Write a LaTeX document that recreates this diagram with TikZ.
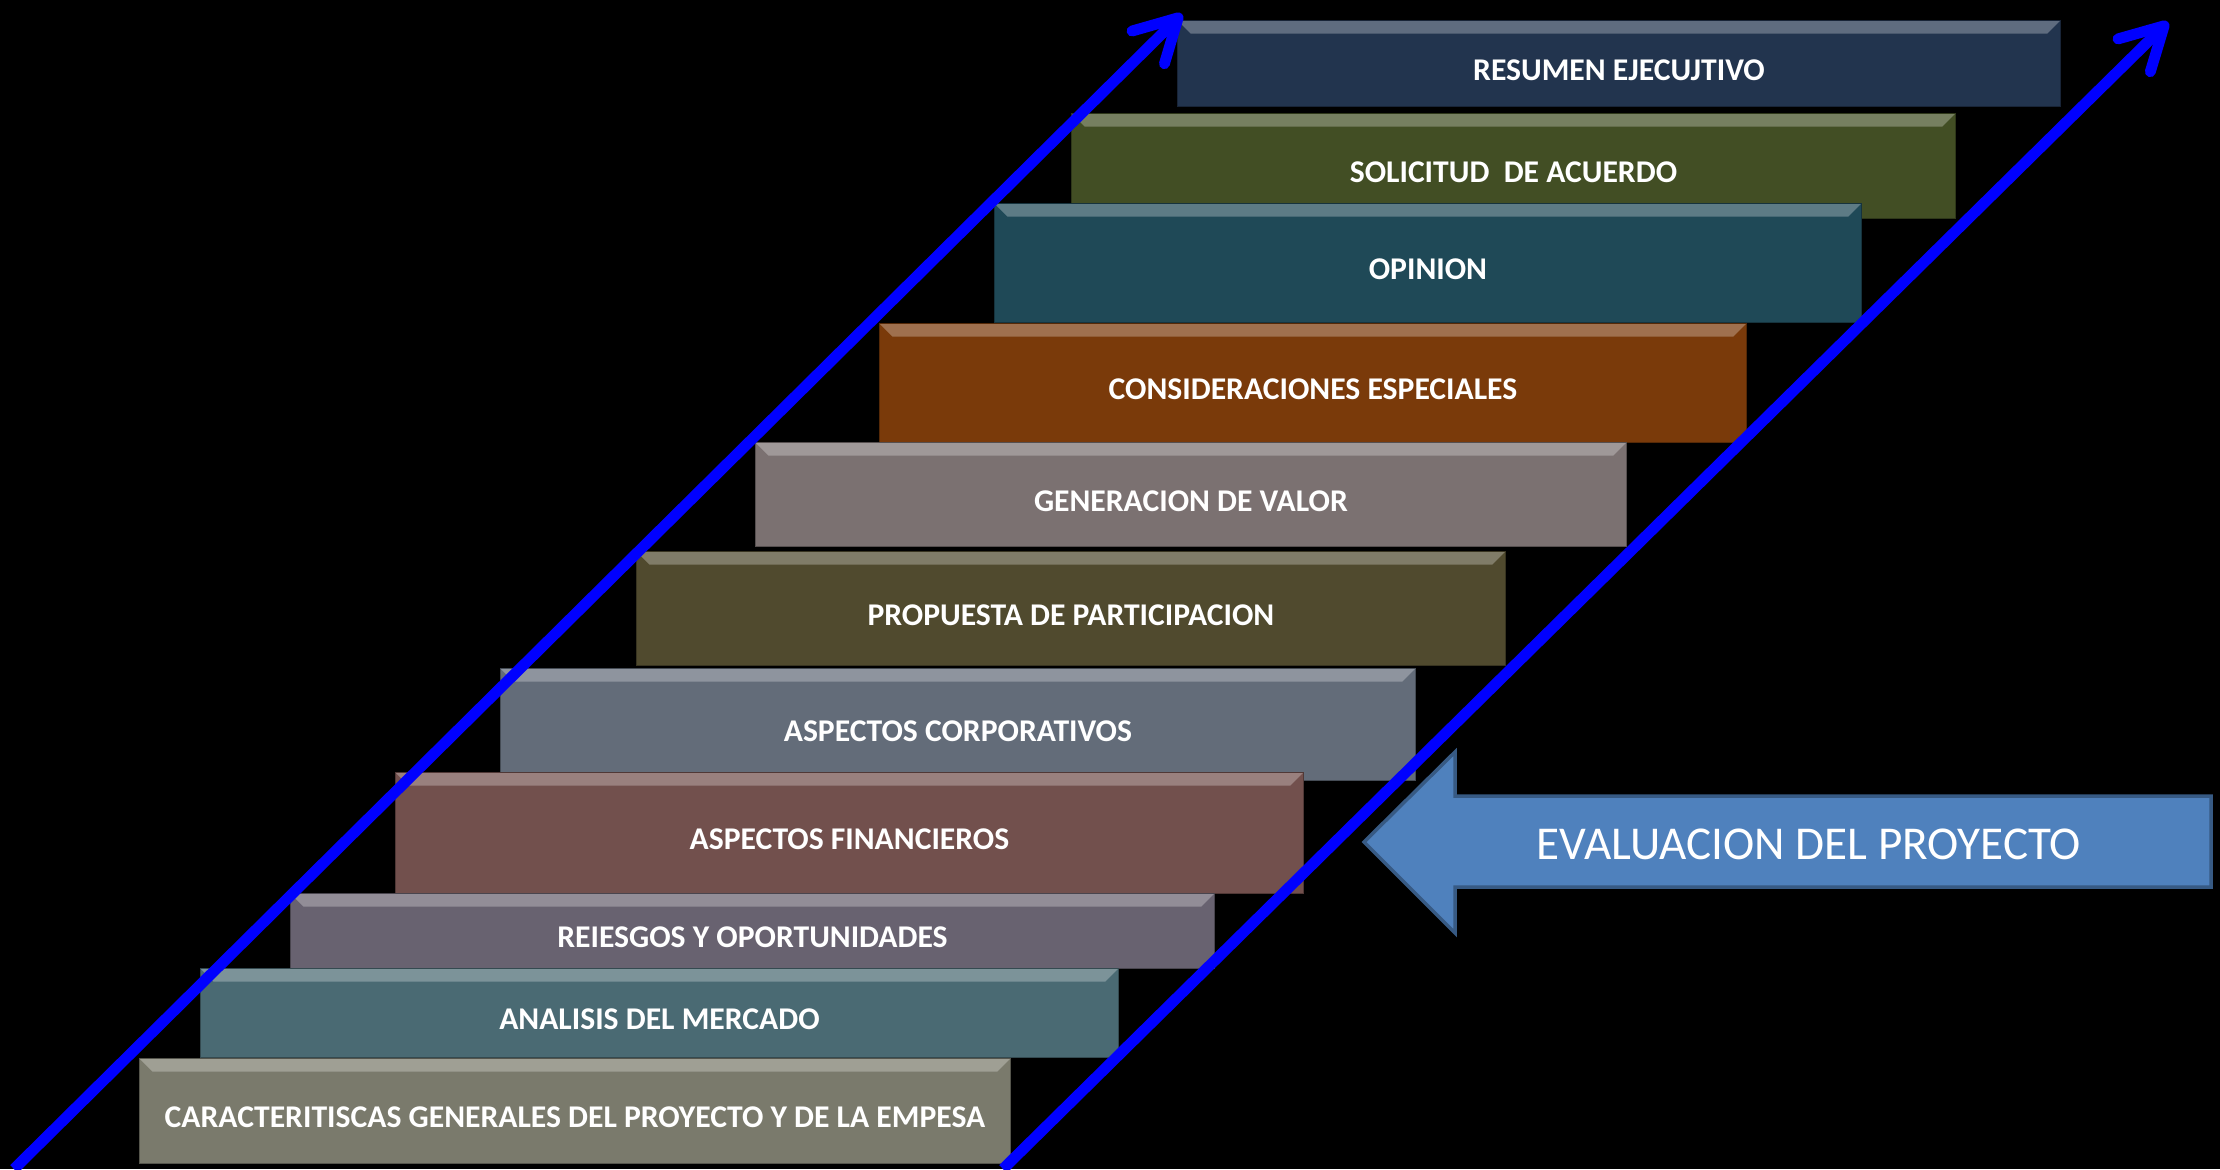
\documentclass[tikz,border=0pt]{standalone}
\usepackage{fontspec}
\setmainfont{Carlito}
\usetikzlibrary{arrows.meta}

\definecolor{cResumen}{RGB}{34,52,78}
\definecolor{cSolicitud}{RGB}{66,78,36}
\definecolor{cOpinion}{RGB}{31,73,87}
\definecolor{cConsidera}{RGB}{122,58,10}
\definecolor{cGenera}{RGB}{123,113,113}
\definecolor{cPropuesta}{RGB}{80,74,46}
\definecolor{cCorpora}{RGB}{99,108,121}
\definecolor{cFinanza}{RGB}{114,80,77}
\definecolor{cRiesgo}{RGB}{104,98,112}
\definecolor{cMercado}{RGB}{74,106,115}
\definecolor{cCaract}{RGB}{122,122,108}
\definecolor{cEvalua}{RGB}{79,129,189}

\tikzset{
	peldano/.style={draw=#1!70!black, fill=#1, text=white, anchor=north west, inner sep=0pt,
		font=\fontsize{9pt}{10pt}\selectfont\bfseries, text height=0.33cm, text depth=0cm,
		path picture={
			\fill[white, opacity=.28] (path picture bounding box.north west) -- (path picture bounding box.north east)
				-- ([xshift=-0.13cm, yshift=-0.13cm]path picture bounding box.north east)
				-- ([xshift=0.13cm, yshift=-0.13cm]path picture bounding box.north west) -- cycle;
		}},
	flecha/.style={draw=blue, line width=3.1pt, -{Straight Barb[length=4.2mm, width=4.6mm, round]}}
}

\begin{document}
\begin{tikzpicture}[x=0.01cm, y=-0.01cm]
	\fill[black] (0,0) rectangle (2220,1169);
	\useasboundingbox (0,0) rectangle (2220,1169);
	% escalones, de arriba hacia abajo
	\node[peldano=cResumen, minimum width=8.82cm, minimum height=0.86cm] (resumen) at (1177,20) {RESUMEN EJECUJTIVO};
	\node[peldano=cSolicitud, minimum width=8.83cm, minimum height=1.05cm] (solicitud) at (1071,113) {SOLICITUD\ \ DE ACUERDO};
	\node[peldano=cOpinion, minimum width=8.66cm, minimum height=1.19cm] (opinion) at (994,203) {OPINION};
	\node[peldano=cConsidera, minimum width=8.66cm, minimum height=1.19cm] (consideraciones) at (879,323) {CONSIDERACIONES ESPECIALES};
	\node[peldano=cGenera, minimum width=8.70cm, minimum height=1.04cm] (generacion) at (755,442) {GENERACION DE VALOR};
	\node[peldano=cPropuesta, minimum width=8.68cm, minimum height=1.14cm] (propuesta) at (636,551) {PROPUESTA DE PARTICIPACION};
	\node[peldano=cCorpora, minimum width=9.14cm, minimum height=1.12cm] (corporativos) at (500,668) {ASPECTOS CORPORATIVOS};
	\node[peldano=cFinanza, minimum width=9.07cm, minimum height=1.21cm] (financieros) at (395,772) {ASPECTOS FINANCIEROS};
	\node[peldano=cRiesgo, minimum width=9.23cm, minimum height=0.75cm] (riesgos) at (290,893) {REIESGOS Y OPORTUNIDADES};
	\node[peldano=cMercado, minimum width=9.17cm, minimum height=0.89cm] (mercado) at (200,968) {ANALISIS DEL MERCADO};
	\node[peldano=cCaract, minimum width=8.70cm, minimum height=1.05cm] (caracteristicas) at (139,1058) {CARACTERITISCAS GENERALES DEL PROYECTO Y DE LA EMPESA};
	% flechas azules
	\coordinate (izqA) at (14,1169);
	\coordinate (izqB) at (1182,14);
	\coordinate (derA) at (1003,1169);
	\coordinate (derB) at (2168,22);
	\draw[flecha] (izqA) -- (izqB);
	\draw[flecha] (derA) -- (derB);
	% flecha de evaluacion
	\draw[fill=cEvalua, draw=cEvalua!70!black, line width=1pt] (1364,842) -- (1455,752) -- (1455,796) -- (2211,796)
		-- (2211,887) -- (1455,887) -- (1455,933) -- cycle;
	\node[text=white, font=\fontsize{13.4pt}{15pt}\selectfont] (evaluacion) at (1809,844) {EVALUACION DEL PROYECTO};
\end{tikzpicture}
\end{document}
